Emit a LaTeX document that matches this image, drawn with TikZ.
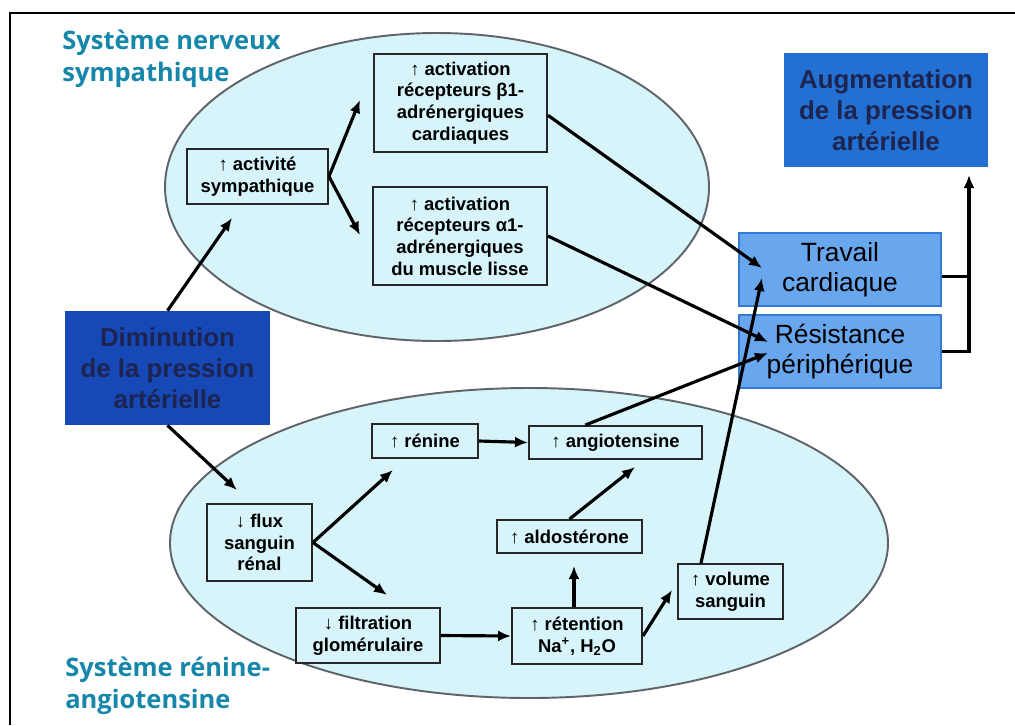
\documentclass[tikz,border=0pt]{standalone}
\usepackage{fontspec}
\setmainfont{Liberation Sans}
\newfontfamily\titlefont{Open Sans}
\usetikzlibrary{arrows.meta}

\definecolor{ellfill}{RGB}{214,244,250}
\definecolor{ellline}{RGB}{95,100,105}
\definecolor{titleteal}{RGB}{22,135,170}
\definecolor{effbox}{RGB}{104,166,238}
\definecolor{effline}{RGB}{52,122,214}
\definecolor{augbox}{RGB}{34,112,210}
\definecolor{dimbox}{RGB}{22,72,182}
\definecolor{bigtext}{RGB}{30,36,80}

\begin{document}
\begin{tikzpicture}[x=0.02cm, y=-0.02cm,
    box/.style={draw=black!85, line width=1.1pt, fill=ellfill, align=center,
                inner sep=2pt, font=\bfseries\fontsize{10.5}{12.3}\selectfont},
    effect/.style={draw=effline, line width=1pt, fill=effbox, align=center,
                   minimum width=40.4mm, minimum height=14.6mm,
                   font=\fontsize{15}{17}\selectfont},
    pressure/.style={line width=1pt, align=center, text=bigtext,
                     minimum width=40.6mm, minimum height=22.6mm,
                     font=\bfseries\fontsize{14.7}{17.6}\selectfont},
    system/.style={draw=ellline, line width=1.1pt, fill=ellfill},
    title/.style={anchor=north west, align=left, inner sep=0pt, text=titleteal,
                  font=\titlefont\bfseries\fontsize{14.5}{18}\selectfont},
    arr/.style={->, line width=1.8pt},
    >={Latex[length=2.6mm,width=2.2mm]}]
  \useasboundingbox[fill=white] (0,0) rectangle (1015,725);
  % frame
  \draw[line width=1.1pt] (10,725) -- (10,13) -- (1015,13);

  % the two systems
  \draw[system] (437,187) ellipse [x radius=272, y radius=154];
  \draw[system] (529,543) ellipse [x radius=359, y radius=155];
  \node[title] (sns) at (62,30) {Système nerveux\\sympathique};
  \node[title] (sra) at (65,657) {Système rénine-\\angiotensine};

  % pressure boxes
  \node[pressure, draw=dimbox, fill=dimbox] (dimi) at (167.5,368)
    {Diminution\\de la pression\\artérielle};
  \node[pressure, draw=augbox, fill=augbox] (aug) at (886,110)
    {Augmentation\\de la pression\\artérielle};

  % effects
  \node[effect] (trav) at (840,269.5) {Travail\\cardiaque};
  \node[effect] (resi) at (840,351.5) {Résistance\\périphérique};

  % sympathetic side
  \node[box, minimum width=28.2mm, minimum height=11mm] (act) at (257.5,176.5)
    {↑ activité\\sympathique};
  \node[box, minimum width=34.6mm, minimum height=19.6mm] (beta) at (460.5,103)
    {↑ activation\\récepteurs β1-\\adrénergiques\\cardiaques};
  \node[box, minimum width=34.8mm, minimum height=19.6mm] (alpha) at (460,236)
    {↑ activation\\récepteurs α1-\\adrénergiques\\du muscle lisse};

  % renin-angiotensin side
  \node[box, minimum width=21mm, minimum height=15.4mm] (flux) at (259.5,542.5)
    {↓ flux\\sanguin\\rénal};
  \node[box, minimum width=21.2mm, minimum height=6.8mm] (renine) at (425,441)
    {↑ rénine};
  \node[box, minimum width=34.6mm, minimum height=6.6mm] (angio) at (615.5,442.5)
    {↑ angiotensine};
  \node[box, minimum width=29mm, minimum height=6.6mm] (aldo) at (569.5,536.5)
    {↑ aldostérone};
  \node[box, minimum width=28.8mm, minimum height=11mm] (filt) at (368,635.5)
    {↓ filtration\\glomérulaire};
  \node[box, minimum width=26mm, minimum height=11.2mm] (reten) at (577,636)
    {↑ rétention\\Na\textsuperscript{+}, H\textsubscript{2}O};
  \node[box, minimum width=21mm, minimum height=11mm] (vol) at (730.5,591.5)
    {↑ volume\\sanguin};

  % arrow tips that stop short of their target
  \coordinate (tAct)   at (232,218);
  \coordinate (tBeta)  at (360,100);
  \coordinate (tAlpha) at (360,235);
  \coordinate (tTravB) at (762,268);
  \coordinate (tTravV) at (762,278);
  \coordinate (tResA)  at (768,342);
  \coordinate (tResG)  at (768,353);
  \coordinate (tFlux)  at (237,490);
  \coordinate (tRen)   at (393,470);
  \coordinate (tFilt)  at (387,595);
  \coordinate (tAldo)  at (574,566);
  \coordinate (tAngio) at (635,467);
  \coordinate (tVol)   at (672,590);
  \coordinate (tAug)   at (969,175);

  \draw[arr] (dimi.north) -- (tAct);
  \draw[arr] (act.east) -- (tBeta);
  \draw[arr] (act.east) -- (tAlpha);
  \draw[arr] (beta.-8) -- (tTravB);
  \draw[arr] (alpha.east) -- (tResA);
  \draw[arr] (vol.136) -- (tTravV);
  \draw[arr] (angio.150) -- (tResG);
  \draw[arr] (dimi.south) -- (tFlux);
  \draw[arr] (flux.east) -- (tRen);
  \draw[arr] (flux.east) -- (tFilt);
  \draw[arr] (renine.east) -- (angio.west);
  \draw[arr] (filt.east) -- (reten.west);
  \draw[arr] (tAldo |- reten.north) -- (tAldo);
  \draw[arr] (aldo.north) -- (tAngio);
  \draw[arr] (reten.east) -- (tVol);
  \draw[line width=1.8pt] (trav.-4) -- (trav.-4 -| tAug);
  \draw[arr] (resi.east) -- (resi.east -| tAug) -- (tAug);
\end{tikzpicture}
\end{document}
